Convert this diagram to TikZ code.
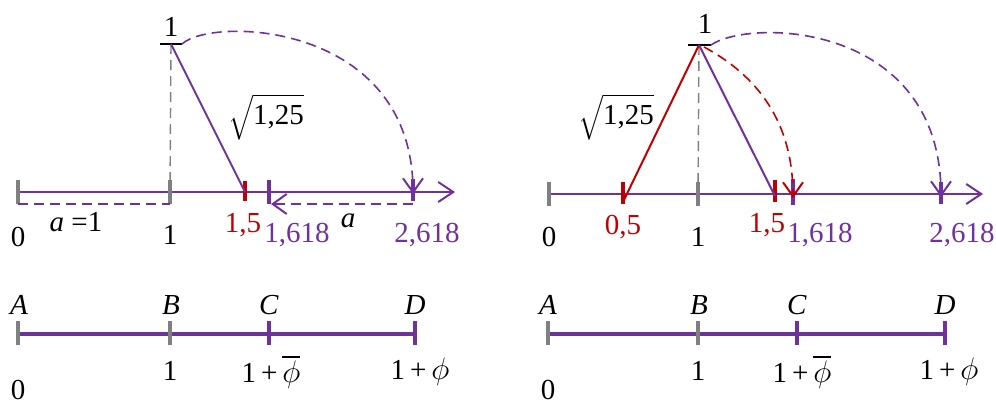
\documentclass[tikz,border=0pt]{standalone}
\usepackage{exscale}
\usepackage{fontspec}
\usepackage{graphicx}
\setmainfont{Liberation Serif}
\usetikzlibrary{arrows.meta}
\definecolor{pur}{HTML}{7030A0}
\definecolor{rd}{HTML}{C00000}
\definecolor{gr}{HTML}{808080}
\newcommand{\bigphi}{\scalebox{1.25}{$\phi$}}
\newcommand{\barphi}{\scalebox{1.25}{$\overline{\phi}$}}
\newcommand{\rootlbl}{$\sqrt{\vphantom{\big(}\hbox{1,25}}$}
\begin{document}
\begin{tikzpicture}[x=1pt,y=-1pt,
  lbl/.style={inner sep=0pt,font=\fontsize{29}{32}\selectfont},
  axis/.style={pur,line width=2pt},
  thickax/.style={pur,line width=4pt},
  gtick/.style={gr,line width=3.5pt},
  rtick/.style={rd,line width=3.5pt},
  ptick/.style={pur,line width=3.5pt},
  barb/.style={-{Straight Barb[length=14pt,width=20pt,line width=2pt]}},
  dasharc/.style={dashed,dash pattern=on 10pt off 6pt,line width=1.6pt},
]
\useasboundingbox (0,0) rectangle (996,405);
% ================= LEFT TOP =================
\coordinate (O1) at (18,192);
\coordinate (U1) at (170,192);
\coordinate (H1) at (245,192);
\coordinate (G1) at (269,192);
\coordinate (P1) at (413,192);
\coordinate (E1) at (455,192);
\coordinate (T1) at (171,44);
\coordinate (Tl1) at (160,44);
\coordinate (Tr1) at (182,44);
\draw[gr,dashed,dash pattern=on 10pt off 6pt,line width=1.4pt] (T1) -- (U1);
\draw[axis,-{Straight Barb[length=15pt,width=20pt,line width=2pt]}] (O1) -- (E1);
\draw[gtick] ([yshift=-12pt]O1) -- ([yshift=12pt]O1);
\draw[gtick] ([yshift=-12pt]U1) -- ([yshift=12pt]U1);
\draw[rtick] ([yshift=-9pt]H1) -- ([yshift=11pt]H1);
\draw[ptick] ([yshift=-12pt]G1) -- ([yshift=12pt]G1);
\draw[ptick] ([yshift=-9pt]P1) -- ([yshift=13pt]P1);
\draw[black,line width=2pt] (Tl1) -- (Tr1);
\draw[pur,line width=2pt] (T1) -- (H1);
\draw[pur,dasharc,barb] (Tr1) .. controls (212,16) and (413,22) .. ([yshift=-2pt]P1);
\coordinate (da1) at (18,204);
\coordinate (db1) at (170,204);
\coordinate (dc1) at (413,204);
\coordinate (dd1) at (271,204);
\draw[pur,dasharc] (da1) -- (db1);
\draw[pur,dasharc,barb] (dc1) -- (dd1);
\node[lbl] (l1top) at (171,27) {1};
\node[lbl] (sq1) at (266,117) {\rootlbl};
\node[lbl] (a1) at (76,222) {\textit{a} =1};
\node[lbl] (a2) at (348,221) {\textit{a}};
\node[lbl] (z1) at (18,237) {0};
\node[lbl] (one1) at (170,235) {1};
\node[lbl,text=rd] (h1) at (243,225) {1,5};
\node[lbl,text=pur] (g1) at (297,235) {1,618};
\node[lbl,text=pur] (p1) at (427,235) {2,618};
% ================= RIGHT TOP =================
\coordinate (O2) at (549,194);
\coordinate (Q2) at (623,194);
\coordinate (U2) at (698,194);
\coordinate (H2) at (775,194);
\coordinate (G2) at (793,194);
\coordinate (P2) at (941,194);
\coordinate (E2) at (983,194);
\coordinate (T2) at (699,45);
\coordinate (Tl2) at (688,45);
\coordinate (Tr2) at (711,45);
\draw[gr,dashed,dash pattern=on 10pt off 6pt,line width=1.4pt] (T2) -- (U2);
\draw[axis,-{Straight Barb[length=15pt,width=20pt,line width=2pt]}] (O2) -- (E2);
\draw[gtick] ([yshift=-12pt]O2) -- ([yshift=12pt]O2);
\draw[rtick] ([yshift=-10pt]Q2) -- ([yshift=12pt]Q2);
\draw[gtick] ([yshift=-12pt]U2) -- ([yshift=12pt]U2);
\draw[rtick] ([yshift=-8pt]H2) -- ([yshift=14pt]H2);
\draw[ptick] ([yshift=-11pt]G2) -- ([yshift=15pt]G2);
\draw[ptick] ([yshift=-10pt]P2) -- ([yshift=12pt]P2);
\draw[black,line width=2pt] (Tl2) -- (Tr2);
\draw[rd,line width=2pt] ([yshift=-8pt]Q2) -- (T2);
\draw[pur,line width=2pt] (T2) -- ([yshift=-2pt]H2);
\draw[rd,dasharc,barb] (704,47) .. controls (765,80) and (793,130) .. ([yshift=-4pt]G2);
\draw[pur,dasharc,barb] (Tr2) .. controls (750,18) and (941,22) .. ([yshift=-3pt]P2);
\node[lbl] (l2top) at (705,24) {1};
\node[lbl] (sq2) at (616,117) {\rootlbl};
\node[lbl] (z2) at (549,237) {0};
\node[lbl,text=rd] (q2) at (623,227) {0,5};
\node[lbl] (one2) at (698,237) {1};
\node[lbl,text=rd] (h2) at (767,225) {1,5};
\node[lbl,text=pur] (g2) at (820,235) {1,618};
\node[lbl,text=pur] (p2) at (962,235) {2,618};
% ================= LEFT BOTTOM =================
\coordinate (A1) at (18,334);
\coordinate (B1) at (170,334);
\coordinate (C1) at (269,334);
\coordinate (D1) at (415,334);
\draw[thickax] (A1) -- (D1);
\draw[gtick] ([yshift=-11pt]A1) -- ([yshift=13pt]A1);
\draw[gtick] ([yshift=-11pt]B1) -- ([yshift=13pt]B1);
\draw[ptick] ([yshift=-11pt]C1) -- ([yshift=13pt]C1);
\draw[ptick] ([yshift=-11pt]D1) -- ([yshift=13pt]D1);
\node[lbl] (nA1) at (19,305) {\textit{A}};
\node[lbl] (nB1) at (171,305) {\textit{B}};
\node[lbl] (nC1) at (269,305) {\textit{C}};
\node[lbl] (nD1) at (415,305) {\textit{D}};
\node[lbl] (b1) at (170,371) {1};
\node[lbl] (c1) at (271,372) {1\,+\,\barphi};
\node[lbl] (d1) at (420,372) {1\,+\,\bigphi};
\node[lbl] (zz1) at (18,390) {0};
% ================= RIGHT BOTTOM =================
\coordinate (A2) at (548,334);
\coordinate (B2) at (698,334);
\coordinate (C2) at (797,334);
\coordinate (D2) at (945,334);
\draw[thickax] (A2) -- (D2);
\draw[gtick] ([yshift=-11pt]A2) -- ([yshift=13pt]A2);
\draw[gtick] ([yshift=-11pt]B2) -- ([yshift=13pt]B2);
\draw[ptick] ([yshift=-11pt]C2) -- ([yshift=13pt]C2);
\draw[ptick] ([yshift=-11pt]D2) -- ([yshift=13pt]D2);
\node[lbl] (nA2) at (548,305) {\textit{A}};
\node[lbl] (nB2) at (699,305) {\textit{B}};
\node[lbl] (nC2) at (797,305) {\textit{C}};
\node[lbl] (nD2) at (945,305) {\textit{D}};
\node[lbl] (b2) at (698,371) {1};
\node[lbl] (c2) at (802,372) {1\,+\,\barphi};
\node[lbl] (d2) at (949,372) {1\,+\,\bigphi};
\node[lbl] (zz2) at (548,390) {0};
\end{tikzpicture}
\end{document}
